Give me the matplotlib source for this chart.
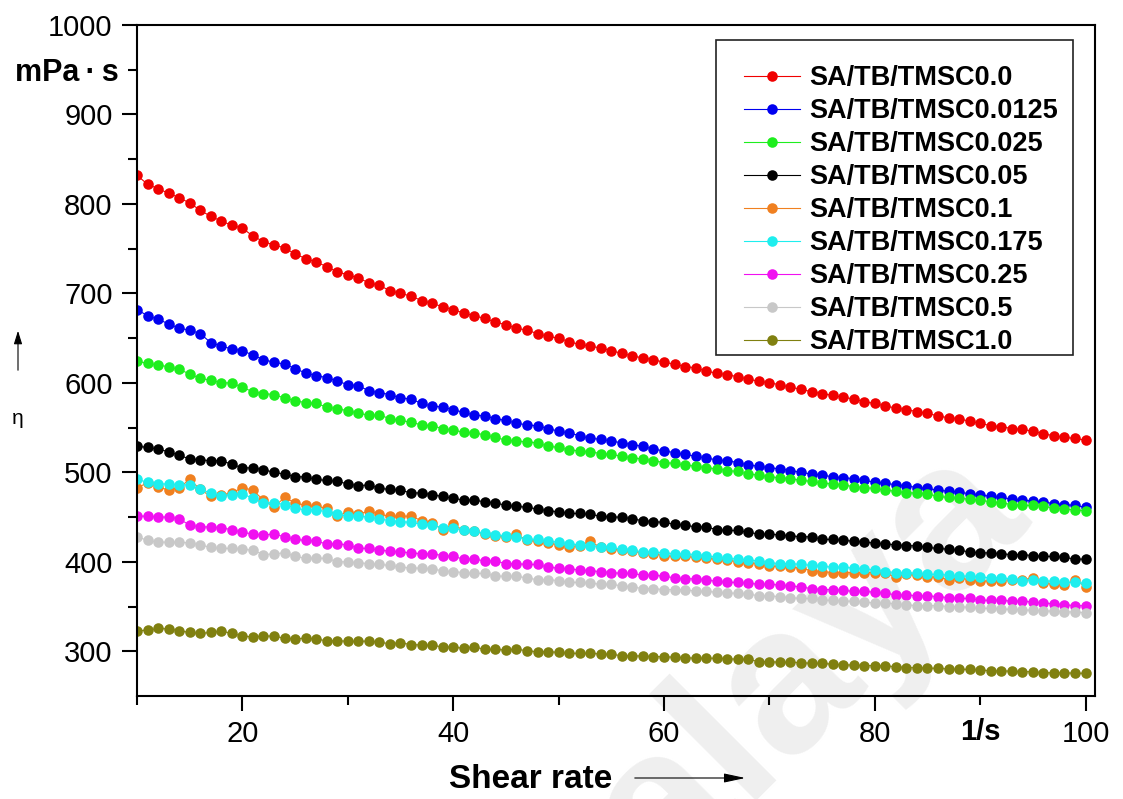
import matplotlib
matplotlib.use("Agg")
import matplotlib.pyplot as plt
import numpy as np
from matplotlib.patches import Rectangle

plt.rcParams['font.family'] = ['Liberation Sans', 'DejaVu Sans']

# shear rate sweep, 1/s (one point per 1/s)
shear_rate = np.arange(10, 101)

# viscosity, mPa·s
tmsc_0 = [832, 822, 817, 812, 807, 801, 793, 786, 781, 776,
          773, 764, 758, 754, 751, 744, 739, 735, 730, 724,
          721, 717, 712, 709, 703, 700, 697, 692, 689, 685,
          682, 678, 675, 672, 668, 665, 661, 659, 655, 652,
          650, 646, 643, 641, 639, 636, 633, 630, 628, 626,
          623, 621, 618, 617, 613, 611, 609, 607, 604, 602,
          600, 598, 595, 593, 590, 588, 586, 584, 582, 579,
          577, 574, 572, 570, 568, 566, 563, 561, 560, 557,
          555, 552, 551, 549, 548, 546, 543, 541, 539, 538,
          536]
tmsc_0125 = [682, 675, 671, 666, 661, 659, 655, 645, 641, 638,
             636, 631, 626, 623, 621, 616, 611, 608, 606, 602,
             598, 597, 591, 589, 587, 583, 582, 577, 574, 573,
             570, 567, 564, 563, 560, 558, 555, 553, 552, 549,
             546, 544, 541, 538, 537, 535, 533, 531, 529, 526,
             524, 522, 520, 518, 516, 514, 513, 511, 508, 507,
             505, 504, 502, 500, 498, 497, 495, 494, 493, 491,
             489, 488, 486, 485, 483, 482, 480, 479, 478, 476,
             475, 473, 472, 470, 469, 468, 467, 465, 464, 463,
             461]
tmsc_025 = [624, 622, 620, 618, 615, 610, 605, 603, 600, 600,
            595, 590, 588, 587, 583, 580, 578, 577, 573, 571,
            569, 566, 564, 564, 560, 558, 556, 553, 552, 549,
            547, 545, 544, 542, 539, 536, 535, 534, 533, 529,
            528, 525, 524, 523, 521, 520, 518, 516, 515, 513,
            511, 510, 508, 507, 505, 504, 502, 501, 498, 497,
            495, 494, 493, 491, 490, 488, 487, 486, 484, 483,
            482, 480, 479, 477, 477, 476, 473, 472, 471, 470,
            469, 467, 466, 464, 463, 463, 462, 460, 459, 458,
            457]
tmsc_05 = [529, 528, 526, 523, 519, 515, 514, 513, 513, 509,
           505, 505, 503, 500, 498, 495, 495, 492, 491, 490,
           487, 485, 486, 482, 481, 480, 477, 477, 475, 473,
           471, 469, 469, 467, 466, 463, 462, 461, 459, 457,
           456, 454, 454, 453, 451, 450, 450, 448, 446, 445,
           444, 442, 441, 439, 439, 436, 435, 435, 433, 431,
           431, 430, 429, 428, 428, 425, 425, 424, 423, 422,
           421, 420, 419, 418, 418, 416, 415, 414, 413, 411,
           410, 410, 409, 408, 408, 407, 406, 406, 405, 403,
           403]
tmsc_1 = [483, 488, 484, 480, 483, 492, 481, 473, 475, 477,
          483, 480, 469, 461, 472, 466, 463, 462, 460, 451,
          456, 453, 457, 453, 451, 451, 451, 446, 443, 436,
          442, 435, 434, 431, 429, 428, 431, 424, 423, 421,
          419, 417, 418, 423, 416, 414, 413, 412, 410, 409,
          407, 406, 406, 405, 404, 403, 402, 400, 399, 398,
          395, 395, 394, 393, 390, 389, 388, 388, 388, 388,
          388, 387, 383, 386, 385, 383, 383, 380, 382, 380,
          378, 379, 379, 380, 380, 382, 376, 375, 374, 380,
          372]
tmsc_175 = [492, 489, 487, 487, 486, 486, 481, 477, 474, 475,
            476, 471, 466, 466, 464, 460, 458, 458, 456, 453,
            451, 451, 450, 448, 446, 445, 444, 442, 441, 438,
            438, 435, 434, 432, 430, 429, 428, 425, 425, 423,
            422, 420, 419, 418, 417, 416, 414, 413, 411, 411,
            410, 409, 409, 408, 407, 405, 404, 403, 402, 401,
            399, 398, 398, 397, 396, 395, 394, 394, 393, 392,
            391, 389, 388, 388, 387, 386, 386, 385, 384, 384,
            383, 382, 382, 381, 379, 380, 379, 378, 377, 377,
            376]
tmsc_25 = [451, 451, 450, 450, 448, 441, 439, 439, 438, 436,
           433, 431, 430, 431, 428, 425, 424, 423, 420, 420,
           419, 415, 415, 413, 412, 411, 410, 409, 409, 407,
           406, 403, 403, 401, 401, 398, 398, 397, 397, 394,
           393, 392, 391, 390, 389, 388, 387, 387, 385, 385,
           384, 382, 381, 381, 380, 378, 377, 377, 376, 375,
           375, 374, 373, 372, 370, 369, 369, 368, 367, 367,
           366, 365, 363, 363, 362, 362, 361, 360, 359, 359,
           357, 357, 357, 356, 356, 355, 354, 353, 352, 351,
           351]
tmsc_5 = [428, 424, 422, 422, 422, 421, 419, 416, 415, 415,
          414, 413, 408, 409, 410, 406, 404, 404, 404, 400,
          400, 399, 398, 397, 396, 394, 393, 393, 392, 390,
          389, 388, 387, 387, 384, 384, 384, 382, 380, 380,
          379, 377, 377, 376, 375, 375, 373, 372, 370, 370,
          369, 369, 369, 367, 367, 366, 365, 365, 364, 362,
          362, 361, 360, 359, 359, 357, 357, 356, 356, 355,
          354, 354, 353, 352, 351, 351, 351, 350, 350, 349,
          348, 348, 347, 347, 346, 346, 345, 345, 344, 344,
          343]
tmsc_10 = [323, 323.5, 325.5, 325, 323, 321, 320, 321, 322.5, 320,
           317, 316, 317, 317, 314.5, 314, 314.5, 314, 311.5, 312,
           311, 311, 311.5, 310, 308.5, 309.5, 307.5, 307, 306.5, 305,
           304.5, 303.5, 305, 302, 302, 301.5, 302.5, 300.5, 299.5, 299.5,
           298.8, 297.7, 297.7, 297.7, 297, 296.6, 295.1, 294.8, 294.8, 294,
           294, 293.3, 292.9, 292.2, 292.2, 292.2, 291.8, 291, 291, 288.4,
           288.4, 287.7, 287.7, 287.3, 286.5, 286.5, 285.5, 284.7, 284.7, 284,
           284, 283.6, 282.8, 281.7, 281.7, 281, 281, 280.2, 279.8, 279.8,
           279, 278.3, 277.9, 277.9, 277.2, 277.2, 276, 276, 276, 275.4,
           275.4]

labels = ['SA/TB/TMSC0.0', 'SA/TB/TMSC0.0125', 'SA/TB/TMSC0.025',
          'SA/TB/TMSC0.05', 'SA/TB/TMSC0.1', 'SA/TB/TMSC0.175',
          'SA/TB/TMSC0.25', 'SA/TB/TMSC0.5', 'SA/TB/TMSC1.0']
colors = ['#f00000', '#0000f0', '#1eee1e', '#000000', '#f08020',
          '#1eeeee', '#f010f0', '#c8c8c8', '#808010']
series = [tmsc_0, tmsc_0125, tmsc_025, tmsc_05, tmsc_1,
          tmsc_175, tmsc_25, tmsc_5, tmsc_10]

fig = plt.figure(figsize=(11.23, 7.99), dpi=100)
ax = fig.add_axes([0.1220, 0.1289, 0.8531, 0.8398])
ax.patch.set_visible(False)

# faint background stamp
fig.text(745 / 1123, 1 - 722 / 799, 'Malaya', rotation=45, color='#efefef',
         fontsize=150, fontweight='bold', ha='center', va='center', zorder=-1)

for vals, col, lab in zip(series, colors, labels):
    ax.plot(shear_rate, vals, '-o', color=col, lw=0.8, ms=7.6, mew=0, label=lab)

ax.set_xlim(10, 100.9)
ax.set_ylim(250, 1000)
ax.set_xticks([20, 40, 60, 80, 100])
ax.set_xticks([10, 30, 50, 70, 90], labels=['', '', '', '', '1/s'],
              minor=True, fontweight='bold')
ax.set_yticks(np.arange(300, 1001, 100))
ax.set_yticks(np.arange(350, 1000, 100),
              labels=['', '', '', '', '', '', 'mPa\u2009·\u2009s'],
              minor=True, fontweight='bold')
ax.tick_params(which='both', direction='out', width=1.5, labelsize=21,
               pad=7, top=False, right=False)
ax.tick_params(which='major', length=10.5)
ax.tick_params(which='minor', length=6.5)
ax.xaxis.set_tick_params(which='minor', pad=9)
for lbl in ax.get_yticklabels(minor=True):
    lbl.set_fontsize(22)
for sp in ax.spines.values():
    sp.set_linewidth(1.5)

leg = ax.legend(frameon=False, loc='upper left',
                bbox_to_anchor=(744 / 1123, 1 - 65 / 799),
                bbox_transform=fig.transFigure, borderpad=0, borderaxespad=0,
                handlelength=2.05, handletextpad=0.37, labelspacing=0.26,
                prop={'weight': 'bold', 'size': 19.5})
fig.add_artist(Rectangle((716 / 1123, 1 - 355 / 799), 357 / 1123, 315 / 799,
                         transform=fig.transFigure, fill=False,
                         ec='#222222', lw=1.2))

# axis titles with arrows
fig.text(18 / 1123, 1 - 418 / 799, 'η', fontsize=15, ha='center', va='center')
ax.annotate('', xy=(18 / 1123, 1 - 328 / 799), xytext=(18 / 1123, 1 - 373 / 799),
            xycoords='figure fraction', textcoords='figure fraction',
            arrowprops=dict(arrowstyle='-|>,head_length=0.8,head_width=0.25',
                            color='black', lw=0.8, mutation_scale=10))
fig.text(531 / 1123, 1 - 780 / 799, 'Shear rate', fontsize=24,
         fontweight='bold', ha='center', va='center')
ax.annotate('', xy=(748 / 1123, 1 - 778 / 799), xytext=(632 / 1123, 1 - 778 / 799),
            xycoords='figure fraction', textcoords='figure fraction',
            arrowprops=dict(arrowstyle='-|>,head_length=1.3,head_width=0.28',
                            color='black', lw=0.8, mutation_scale=10))

fig.savefig('out.png', dpi=100)
